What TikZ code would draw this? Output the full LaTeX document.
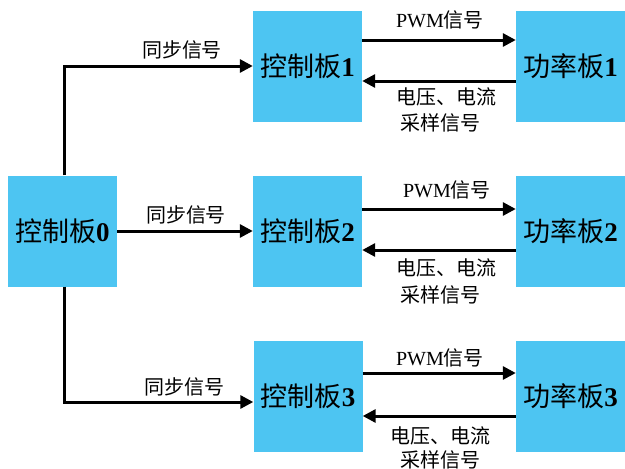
\documentclass[tikz,border=0pt]{standalone}
\usepackage{fontspec}
\setmainfont{Liberation Serif}
\newfontfamily\cjk{Noto Sans CJK SC}
\usetikzlibrary{arrows.meta}
\definecolor{boxblue}{RGB}{77,197,242}
\begin{document}
\begin{tikzpicture}[x=1pt,y=-1pt,
  board/.style={fill=boxblue,draw=none,inner sep=0pt,minimum width=109pt,minimum height=111pt,font=\fontsize{27}{29}\selectfont},
  conn/.style={line width=3pt,-{Triangle[length=13pt,width=13pt]}},
  lab/.style={font=\fontsize{20}{23}\selectfont,inner sep=0pt,align=center}]
\useasboundingbox (0,0) rectangle (625,469);
\node[board] (c0) at (62.5,231) {{\cjk 控制板}\textbf{0}};
\node[board] (c1) at (307.5,66.5) {{\cjk 控制板}\textbf{1}};
\node[board] (c2) at (307.5,231) {{\cjk 控制板}\textbf{2}};
\node[board] (c3) at (308,396) {{\cjk 控制板}\textbf{3}};
\node[board] (p1) at (570.5,66.5) {{\cjk 功率板}\textbf{1}};
\node[board] (p2) at (570.5,231) {{\cjk 功率板}\textbf{2}};
\node[board] (p3) at (570.5,396) {{\cjk 功率板}\textbf{3}};
% sync signals
\coordinate (k1) at (64,66);
\coordinate (k3) at (64,402);
\draw[conn] ([xshift=1.5pt]c0.north) -- (k1) -- (c1.west |- k1);
\draw[conn] (c0.east) -- (c2.west);
\draw[conn] ([xshift=1.5pt]c0.south) -- (k3) -- (c3.west |- k3);
\node[lab] (s1) at (182,50) {\cjk 同步信号};
\node[lab] (s2) at (186,215) {\cjk 同步信号};
\node[lab] (s3) at (184,387) {\cjk 同步信号};
% PWM and feedback
\draw[conn] ([yshift=26.5pt]c1.east) -- ([yshift=26.5pt]p1.west);
\draw[conn] ([yshift=-14.5pt]p1.west) -- ([yshift=-14.5pt]c1.east);
\draw[conn] ([yshift=22pt]c2.east) -- ([yshift=22pt]p2.west);
\draw[conn] ([yshift=-19pt]p2.west) -- ([yshift=-19pt]c2.east);
\draw[conn] ([yshift=23pt]c3.east) -- ([yshift=23pt]p3.west);
\draw[conn] ([yshift=-20pt]p3.west) -- ([yshift=-20pt]c3.east);
\node[lab] (w1) at (440,20) {PWM{\cjk 信号}};
\node[lab] (w2) at (447,190) {PWM{\cjk 信号}};
\node[lab] (w3) at (440,358) {PWM{\cjk 信号}};
\node[lab] (v1) at (446,97) {\cjk 电压、电流};
\node[lab] (f1) at (440,123) {\cjk 采样信号};
\node[lab] (v2) at (446,268) {\cjk 电压、电流};
\node[lab] (f2) at (440,295) {\cjk 采样信号};
\node[lab] (v3) at (440,436) {\cjk 电压、电流};
\node[lab] (f3) at (440,460) {\cjk 采样信号};
\end{tikzpicture}
\end{document}
